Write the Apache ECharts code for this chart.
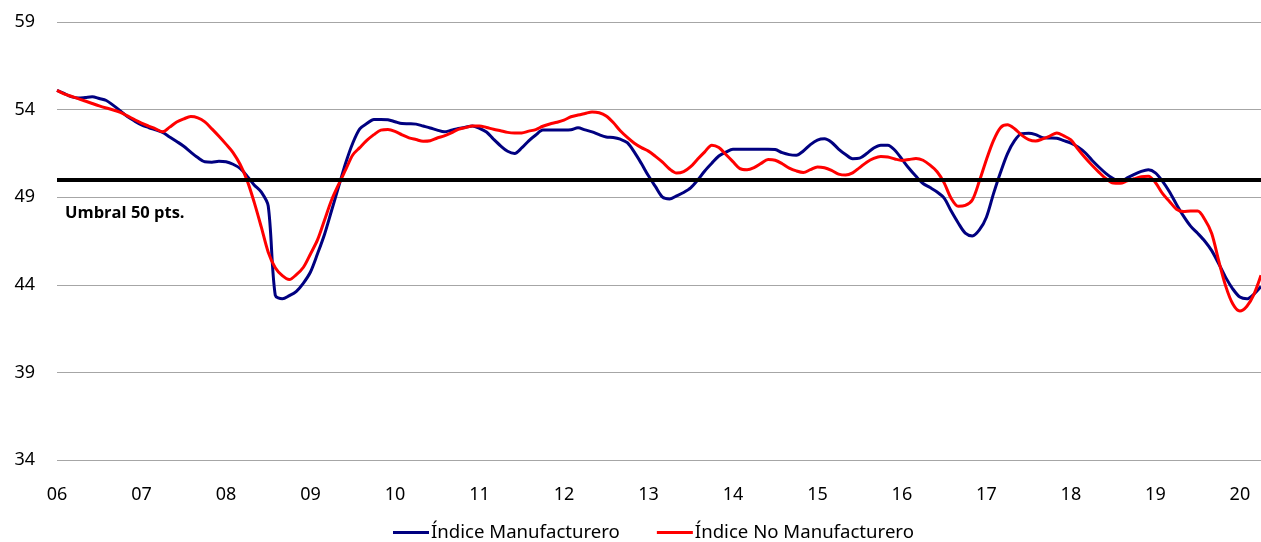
<!DOCTYPE html>
<html>
<head>
<meta charset="utf-8">
<script src="https://cdn.jsdelivr.net/npm/echarts@6/dist/echarts.min.js"></script>
<style>
  html, body { margin: 0; padding: 0; background: #fff; }
  #chart { width: 1261px; height: 542px; }
</style>
</head>
<body>
<div id="chart"></div>
<script>
// años (etiquetas del eje x), datos mensuales ene-2006 .. abr-2020
var years = ['06', '07', '08', '09', '10', '11', '12', '13', '14', '15', '16', '17', '18', '19', '20'];
var yTicks = [34, 39, 44, 49, 54, 59];
var umbral = 50;

var manufacturero = [
  55.1, 54.92, 54.74, 54.66, 54.69, 54.73, 54.63, 54.52, 54.24, 53.93, 53.6, 53.35,
  53.13, 52.98, 52.84, 52.7, 52.44, 52.18, 51.91, 51.57, 51.26, 51.02, 51.0, 51.05,
  51.02, 50.88, 50.64, 50.2, 49.7, 49.3, 48.5, 43.4, 43.2, 43.38, 43.63, 44.1,
  44.73, 45.77, 46.89, 48.24, 49.6, 50.95, 52.08, 52.9, 53.2, 53.44, 53.44, 53.42,
  53.31, 53.2, 53.19, 53.17, 53.06, 52.95, 52.83, 52.73, 52.82, 52.92, 52.99, 53.06,
  52.93, 52.72, 52.31, 51.93, 51.62, 51.5, 51.81, 52.22, 52.55, 52.83, 52.83, 52.83,
  52.83, 52.85, 52.96, 52.84, 52.73, 52.57, 52.44, 52.41, 52.31, 52.11, 51.57, 50.92,
  50.22, 49.6, 49.0, 48.9, 49.08, 49.27, 49.53, 49.98, 50.5, 50.94, 51.35, 51.57,
  51.73, 51.73, 51.74, 51.74, 51.74, 51.74, 51.72, 51.54, 51.43, 51.4, 51.64, 52.0,
  52.26, 52.33, 52.14, 51.75, 51.44, 51.2, 51.23, 51.49, 51.81, 51.97, 51.97, 51.68,
  51.17, 50.65, 50.19, 49.78, 49.55, 49.3, 48.95, 48.21, 47.53, 46.95, 46.79, 47.13,
  47.86, 49.19, 50.41, 51.49, 52.23, 52.63, 52.65, 52.57, 52.4, 52.38, 52.36, 52.23,
  52.09, 51.87, 51.55, 51.11, 50.71, 50.35, 50.06, 49.87, 50.1, 50.3, 50.47, 50.56,
  50.39, 49.92, 49.31, 48.59, 47.92, 47.35, 46.94, 46.5, 45.95, 45.2, 44.41, 43.76,
  43.3, 43.2, 43.47, 43.9
];

var noManufacturero = [
  55.1, 54.9, 54.76, 54.63, 54.49, 54.35, 54.21, 54.09, 53.98, 53.84, 53.64, 53.43,
  53.23, 53.06, 52.9, 52.73, 53.0, 53.29, 53.47, 53.6, 53.53, 53.3, 52.9, 52.48,
  52.03, 51.55, 50.88, 49.96, 48.72, 47.32, 45.86, 44.97, 44.52, 44.3, 44.58, 45.0,
  45.76, 46.56, 47.7, 48.84, 49.73, 50.57, 51.41, 51.83, 52.24, 52.57, 52.83, 52.86,
  52.76, 52.56, 52.39, 52.29, 52.19, 52.22, 52.38, 52.5, 52.67, 52.87, 52.97, 53.06,
  53.07, 52.98, 52.88, 52.79, 52.7, 52.67, 52.67, 52.77, 52.86, 53.05, 53.18, 53.28,
  53.4, 53.59, 53.69, 53.78, 53.87, 53.82, 53.63, 53.26, 52.79, 52.41, 52.08, 51.83,
  51.63, 51.33, 51.0, 50.61, 50.38, 50.46, 50.74, 51.18, 51.59, 51.97, 51.84, 51.44,
  51.03, 50.63, 50.57, 50.69, 50.93, 51.15, 51.11, 50.91, 50.66, 50.5, 50.41, 50.57,
  50.73, 50.68, 50.53, 50.32, 50.26, 50.39, 50.69, 51.0, 51.21, 51.32, 51.29, 51.18,
  51.1, 51.15, 51.21, 51.11, 50.83, 50.45, 49.82, 48.93, 48.48, 48.53, 48.84, 49.92,
  51.14, 52.23, 52.97, 53.13, 52.91, 52.54, 52.29, 52.21, 52.33, 52.49, 52.67, 52.5,
  52.27, 51.75, 51.26, 50.82, 50.42, 50.05, 49.81, 49.8, 49.93, 50.05, 50.17, 50.2,
  49.84, 49.22, 48.76, 48.31, 48.18, 48.21, 48.21, 47.74, 46.93, 45.36, 43.91, 42.9,
  42.5, 42.78, 43.46, 44.54
];

// categorias mensuales: "06-1", "06-2", ...
var categories = manufacturero.map(function (v, i) {
  return years[Math.floor(i / 12)] + '-' + (i % 12 + 1);
});

var font = "'Noto Sans', sans-serif";
var myChart = echarts.init(document.getElementById('chart'));

var option = {
  animation: false,
  backgroundColor: '#fff',
  grid: { left: 57, right: 0, top: 22, bottom: 82 },
  legend: {
    top: 523,
    left: 393,
    padding: 0,
    itemWidth: 36,
    itemHeight: 3,
    itemGap: 37,
    icon: 'rect',
    textStyle: { fontFamily: font, fontSize: 18.6, color: '#000', padding: [0, 0, 0, -3] },
    data: ['Índice Manufacturero', 'Índice No Manufacturero']
  },
  graphic: [{
    type: 'text',
    left: 65,
    top: 205,
    style: { text: 'Umbral 50 pts.', font: "bold 16.5px 'Open Sans', sans-serif", fill: '#000' }
  }],
  xAxis: {
    type: 'category',
    data: categories,
    boundaryGap: false,
    axisLine: { show: false },
    axisTick: { show: false },
    axisLabel: {
      interval: function (index) { return index % 12 === 0; },
      formatter: function (value) { return value.split('-')[0]; },
      margin: 26,
      fontFamily: font,
      fontSize: 18,
      color: '#000'
    },
    splitLine: { show: false }
  },
  yAxis: {
    type: 'value',
    min: yTicks[0],
    max: yTicks[yTicks.length - 1],
    interval: 5,
    axisLine: { show: false },
    axisTick: { show: false },
    axisLabel: { margin: 22, fontFamily: font, fontSize: 18, color: '#000' },
    splitLine: { lineStyle: { color: '#a6a6a6', width: 1 } }
  },
  series: [
    {
      name: 'umbral',
      type: 'line',
      data: [],
      z: 1,
      silent: true,
      markLine: {
        silent: true,
        symbol: 'none',
        label: { show: false },
        lineStyle: { color: '#000', width: 4, type: 'solid' },
        data: [{ yAxis: umbral }]
      }
    },
    {
      name: 'Índice Manufacturero',
      type: 'line',
      data: manufacturero,
      z: 3,
      showSymbol: false,
      smooth: 0.3,
      lineStyle: { color: '#000080', width: 3 },
      itemStyle: { color: '#000080' }
    },
    {
      name: 'Índice No Manufacturero',
      type: 'line',
      data: noManufacturero,
      z: 4,
      showSymbol: false,
      smooth: 0.3,
      lineStyle: { color: '#ff0000', width: 3 },
      itemStyle: { color: '#ff0000' }
    }
  ]
};
myChart.setOption(option);

window.addEventListener('resize', function () {
  myChart.resize();
});
</script>
</body>
</html>
